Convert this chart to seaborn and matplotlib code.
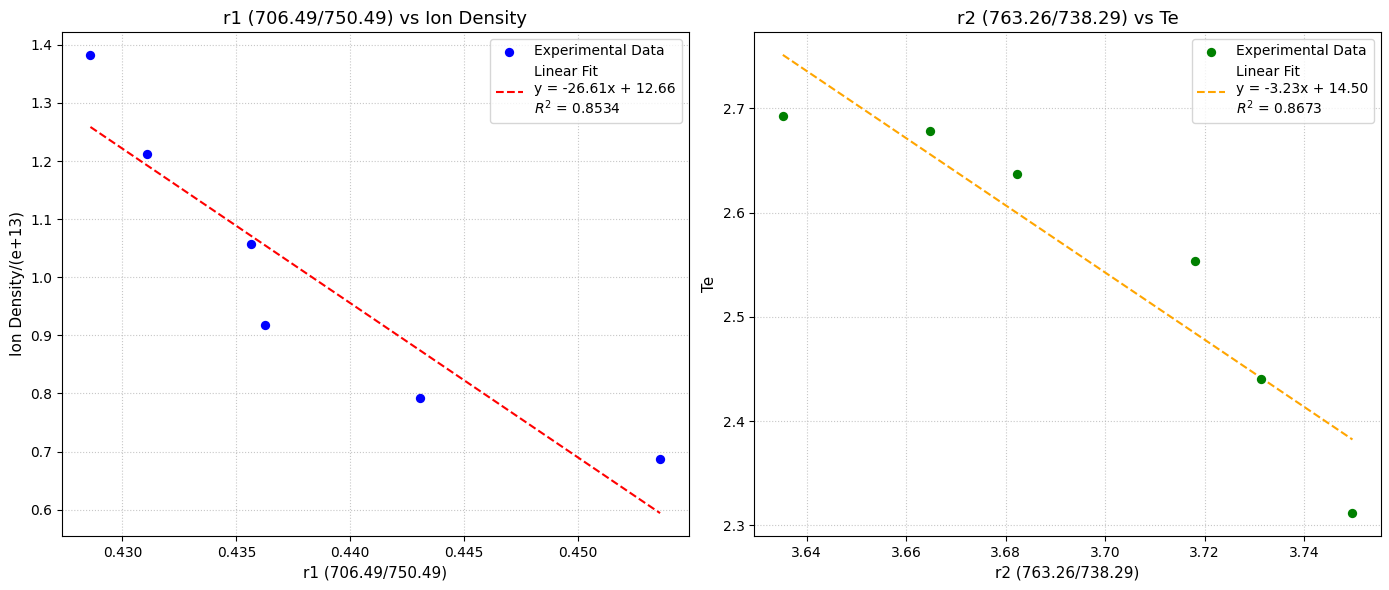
import numpy as np
import seaborn as sns
import matplotlib.pyplot as plt

# datos
r1 = [0.4286, 0.43106, 0.43564, 0.43625, 0.44306, 0.45359]
ion_density = [1.3828, 1.2123, 1.0569, 0.9172, 0.7914, 0.6865]

r2 = [3.6352, 3.6648, 3.6823, 3.7181, 3.7314, 3.7497]
te = [2.6931, 2.6787, 2.6374, 2.5536, 2.4399, 2.3117]

# parametros del ajuste (leyenda)
fit1 = (-26.61, 12.66, 0.8534)
fit2 = (-3.23, 14.50, 0.8673)

paneles = [
    (r1, ion_density, fit1, 'blue', 'red', 'r1 (706.49/750.49)', 'Ion Density/(e+13)',
     'r1 (706.49/750.49) vs Ion Density'),
    (r2, te, fit2, 'green', 'orange', 'r2 (763.26/738.29)', 'Te',
     'r2 (763.26/738.29) vs Te'),
]

fig, axes = plt.subplots(1, 2, figsize=(13.89, 5.9), dpi=100)

for ax, (x, y, fit, c_pt, c_fit, xlab, ylab, titulo) in zip(axes, paneles):
    x = np.array(x)
    y = np.array(y)
    m, b = np.polyfit(x, y, 1)
    xs = np.array([x.min(), x.max()])
    sns.scatterplot(x=x, y=y, ax=ax, color=c_pt, s=45, edgecolor=c_pt,
                    linewidth=0, label='Experimental Data', zorder=3)
    etiqueta = f'Linear Fit\ny = {fit[0]:.2f}x + {fit[1]:.2f}\n$R^2$ = {fit[2]:.4f}'
    sns.lineplot(x=xs, y=m * xs + b, ax=ax, color=c_fit, linestyle='--',
                 linewidth=1.5, label=etiqueta)
    ax.set_xlabel(xlab, fontsize=11)
    ax.set_ylabel(ylab, fontsize=11)
    ax.set_title(titulo, fontsize=13)
    ax.grid(True, linestyle=':', alpha=0.7)
    ax.legend(loc='upper right', fontsize=10)

plt.subplots_adjust(left=0.0446, right=0.9942, top=0.9458, bottom=0.0915, wspace=0.105)
plt.savefig('out.png', dpi=100)
